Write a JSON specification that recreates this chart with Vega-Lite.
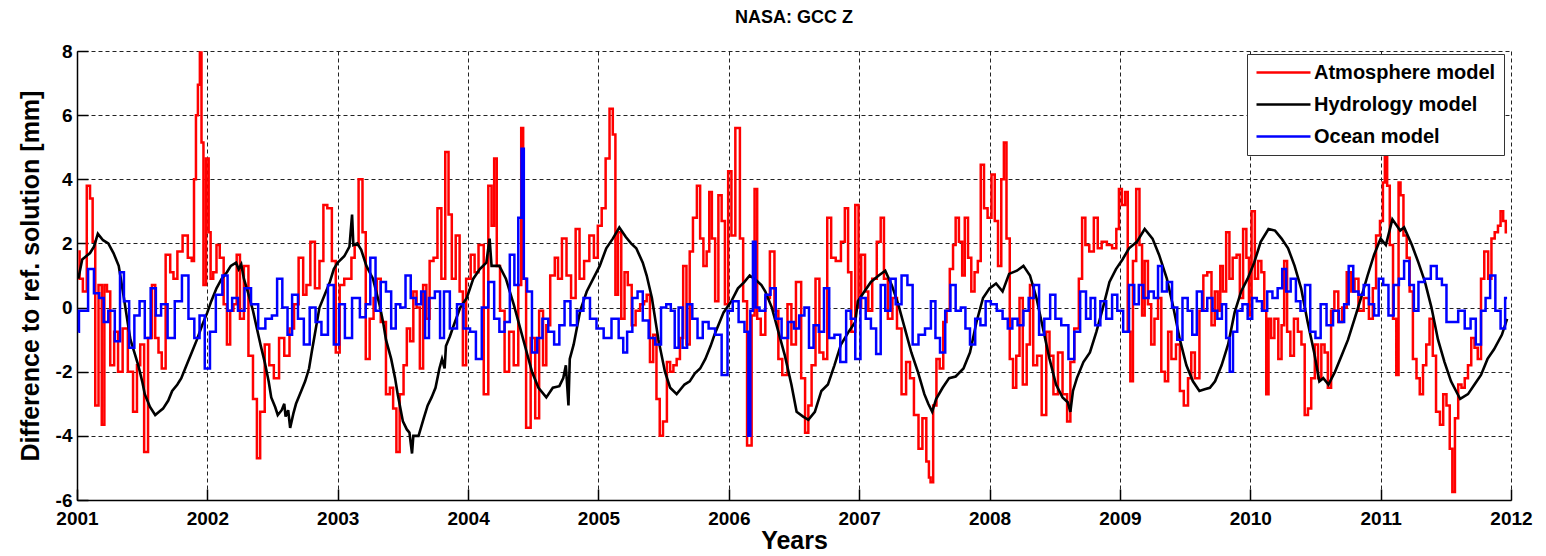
{
  "$schema": "https://vega.github.io/schema/vega-lite/v6.json",
  "width": 1434,
  "height": 449,
  "autosize": {"type": "none"},
  "padding": {"left": 77, "top": 51, "right": 35, "bottom": 56},
  "background": "white",
  "title": {
    "text": "NASA: GCC Z",
    "font": "Liberation Sans",
    "fontSize": 18,
    "fontWeight": "bold",
    "color": "black",
    "anchor": "middle",
    "offset": 15
  },
  "config": {
    "view": {"stroke": null},
    "axis": {
      "labelFont": "Liberation Sans",
      "labelFontSize": 19,
      "labelFontWeight": "bold",
      "labelColor": "black",
      "titleFont": "Liberation Sans",
      "titleFontSize": 25,
      "titleFontWeight": "bold",
      "titleColor": "black",
      "domainColor": "black",
      "domainWidth": 1.5,
      "tickColor": "black",
      "tickWidth": 1.5,
      "tickSize": -11,
      "grid": true,
      "gridColor": "#222222",
      "gridDash": [4, 3],
      "gridWidth": 1,
      "labelFlush": false,
      "labelOverlap": false
    }
  },
  "encoding": {
    "x": {
      "field": "t",
      "type": "quantitative",
      "scale": {"domain": [2001, 2012], "nice": false, "zero": false},
      "axis": {
        "title": "Years",
        "values": [2001, 2002, 2003, 2004, 2005, 2006, 2007, 2008, 2009, 2010, 2011, 2012],
        "format": "d",
        "labelPadding": 20,
        "titlePadding": 0
      }
    },
    "y": {
      "field": "v",
      "type": "quantitative",
      "scale": {"domain": [-6, 8], "nice": false, "zero": false},
      "axis": {
        "title": "Difference to ref. solution [mm]",
        "values": [-6, -4, -2, 0, 2, 4, 6, 8],
        "labelExpr": "'' + datum.value",
        "labelPadding": 16,
        "titlePadding": 12
      }
    }
  },
  "layer": [
    {
      "data": {"name": "atmosphere"},
      "mark": {"type": "line", "interpolate": "step", "strokeWidth": 2.5, "clip": true},
      "encoding": {
        "color": {
          "datum": "Atmosphere model",
          "type": "nominal",
          "scale": {
            "domain": ["Atmosphere model", "Hydrology model", "Ocean model"],
            "range": ["#ff0000", "#000000", "#0000ff"]
          },
          "legend": {
            "title": null,
            "orient": "none",
            "legendX": 1170,
            "legendY": 3,
            "symbolType": "M-3,0H3",
            "symbolSize": 324,
            "symbolStrokeWidth": 2.5,
            "symbolOffset": 18,
            "labelFont": "Liberation Sans",
            "labelFontSize": 20,
            "labelFontWeight": "bold",
            "labelColor": "black",
            "labelLimit": 400,
            "labelOffset": 20,
            "rowPadding": 11,
            "padding": 8,
            "strokeColor": "#333333",
            "fillColor": "white"
          }
        }
      }
    },
    {
      "data": {"name": "hydrology"},
      "mark": {"type": "line", "interpolate": "linear", "strokeWidth": 2.6, "clip": true},
      "encoding": {"color": {"datum": "Hydrology model", "type": "nominal"}}
    },
    {
      "data": {"name": "ocean"},
      "mark": {"type": "line", "interpolate": "step", "strokeWidth": 2.5, "clip": true},
      "encoding": {"color": {"datum": "Ocean model", "type": "nominal"}}
    }
  ],
  "datasets": {
    "hydrology": [
      {"t":2001.01,"v":0.9},{"t":2001.04,"v":1.5},{"t":2001.07,"v":1.6},{"t":2001.10,"v":1.7},{"t":2001.13,"v":1.9},{"t":2001.16,"v":2.3},{"t":2001.20,"v":2.1},{"t":2001.24,"v":2.0},{"t":2001.28,"v":1.7},{"t":2001.32,"v":1.3},{"t":2001.36,"v":0.3},{"t":2001.39,"v":-0.5},{"t":2001.41,"v":-1.0},{"t":2001.44,"v":-1.4},{"t":2001.47,"v":-1.8},{"t":2001.50,"v":-2.3},{"t":2001.52,"v":-2.7},{"t":2001.56,"v":-3.1},{"t":2001.60,"v":-3.35},{"t":2001.63,"v":-3.25},{"t":2001.66,"v":-3.15},{"t":2001.70,"v":-2.9},{"t":2001.73,"v":-2.6},{"t":2001.77,"v":-2.4},{"t":2001.80,"v":-2.2},{"t":2001.84,"v":-1.8},{"t":2001.88,"v":-1.4},{"t":2001.92,"v":-1.0},{"t":2001.96,"v":-0.55},{"t":2002.00,"v":-0.15},{"t":2002.03,"v":0.2},{"t":2002.07,"v":0.6},{"t":2002.11,"v":0.9},{"t":2002.15,"v":1.1},{"t":2002.18,"v":1.3},{"t":2002.22,"v":1.4},{"t":2002.24,"v":1.2},{"t":2002.26,"v":1.35},{"t":2002.28,"v":0.9},{"t":2002.31,"v":0.5},{"t":2002.35,"v":-0.1},{"t":2002.38,"v":-0.65},{"t":2002.41,"v":-1.2},{"t":2002.44,"v":-1.7},{"t":2002.47,"v":-2.3},{"t":2002.49,"v":-2.8},{"t":2002.52,"v":-3.1},{"t":2002.54,"v":-3.35},{"t":2002.57,"v":-3.2},{"t":2002.59,"v":-3.0},{"t":2002.60,"v":-3.4},{"t":2002.62,"v":-3.2},{"t":2002.635,"v":-3.75},{"t":2002.66,"v":-3.3},{"t":2002.68,"v":-3.0},{"t":2002.72,"v":-2.6},{"t":2002.75,"v":-2.3},{"t":2002.78,"v":-1.9},{"t":2002.80,"v":-1.4},{"t":2002.83,"v":-0.7},{"t":2002.86,"v":0.0},{"t":2002.90,"v":0.4},{"t":2002.94,"v":0.8},{"t":2002.97,"v":1.2},{"t":2003.00,"v":1.4},{"t":2003.05,"v":1.6},{"t":2003.09,"v":1.9},{"t":2003.11,"v":2.9},{"t":2003.12,"v":1.95},{"t":2003.15,"v":2.0},{"t":2003.18,"v":1.8},{"t":2003.22,"v":1.3},{"t":2003.27,"v":0.9},{"t":2003.32,"v":0.1},{"t":2003.35,"v":-0.5},{"t":2003.37,"v":-1.0},{"t":2003.41,"v":-1.6},{"t":2003.44,"v":-2.2},{"t":2003.46,"v":-2.7},{"t":2003.50,"v":-3.55},{"t":2003.53,"v":-3.8},{"t":2003.55,"v":-3.9},{"t":2003.57,"v":-4.55},{"t":2003.58,"v":-4.0},{"t":2003.62,"v":-4.0},{"t":2003.66,"v":-3.45},{"t":2003.69,"v":-3.05},{"t":2003.72,"v":-2.8},{"t":2003.75,"v":-2.5},{"t":2003.78,"v":-1.9},{"t":2003.80,"v":-1.6},{"t":2003.82,"v":-1.9},{"t":2003.83,"v":-1.2},{"t":2003.86,"v":-0.9},{"t":2003.89,"v":-0.55},{"t":2003.94,"v":0.0},{"t":2003.99,"v":0.3},{"t":2004.04,"v":0.9},{"t":2004.09,"v":1.2},{"t":2004.14,"v":1.4},{"t":2004.165,"v":2.15},{"t":2004.18,"v":1.3},{"t":2004.24,"v":1.3},{"t":2004.29,"v":0.9},{"t":2004.32,"v":0.5},{"t":2004.35,"v":0.1},{"t":2004.40,"v":-0.65},{"t":2004.45,"v":-1.4},{"t":2004.49,"v":-2.0},{"t":2004.54,"v":-2.5},{"t":2004.60,"v":-2.8},{"t":2004.65,"v":-2.5},{"t":2004.70,"v":-2.45},{"t":2004.73,"v":-2.2},{"t":2004.75,"v":-1.8},{"t":2004.77,"v":-3.05},{"t":2004.78,"v":-1.6},{"t":2004.81,"v":-1.15},{"t":2004.86,"v":-0.1},{"t":2004.91,"v":0.5},{"t":2004.96,"v":0.9},{"t":2005.01,"v":1.3},{"t":2005.06,"v":1.85},{"t":2005.11,"v":2.15},{"t":2005.16,"v":2.5},{"t":2005.21,"v":2.2},{"t":2005.25,"v":2.0},{"t":2005.29,"v":1.85},{"t":2005.34,"v":1.4},{"t":2005.37,"v":1.0},{"t":2005.41,"v":0.3},{"t":2005.46,"v":-1.0},{"t":2005.51,"v":-2.0},{"t":2005.55,"v":-2.5},{"t":2005.60,"v":-2.7},{"t":2005.66,"v":-2.4},{"t":2005.70,"v":-2.3},{"t":2005.74,"v":-2.05},{"t":2005.78,"v":-1.9},{"t":2005.82,"v":-1.6},{"t":2005.86,"v":-1.2},{"t":2005.89,"v":-0.85},{"t":2005.96,"v":-0.15},{"t":2006.02,"v":0.2},{"t":2006.07,"v":0.6},{"t":2006.12,"v":0.8},{"t":2006.16,"v":1.0},{"t":2006.21,"v":0.85},{"t":2006.25,"v":0.7},{"t":2006.28,"v":0.5},{"t":2006.33,"v":0.0},{"t":2006.38,"v":-0.75},{"t":2006.43,"v":-1.5},{"t":2006.48,"v":-2.4},{"t":2006.52,"v":-3.25},{"t":2006.57,"v":-3.4},{"t":2006.61,"v":-3.5},{"t":2006.66,"v":-3.25},{"t":2006.71,"v":-2.6},{"t":2006.76,"v":-2.4},{"t":2006.81,"v":-1.8},{"t":2006.86,"v":-1.15},{"t":2006.92,"v":-0.75},{"t":2006.97,"v":-0.45},{"t":2006.99,"v":0.2},{"t":2007.04,"v":0.5},{"t":2007.09,"v":0.8},{"t":2007.15,"v":1.0},{"t":2007.20,"v":1.15},{"t":2007.25,"v":0.7},{"t":2007.30,"v":0.1},{"t":2007.35,"v":-0.65},{"t":2007.40,"v":-1.4},{"t":2007.45,"v":-2.0},{"t":2007.50,"v":-2.7},{"t":2007.53,"v":-3.0},{"t":2007.56,"v":-3.25},{"t":2007.59,"v":-2.85},{"t":2007.64,"v":-2.5},{"t":2007.69,"v":-2.2},{"t":2007.74,"v":-2.15},{"t":2007.80,"v":-1.9},{"t":2007.85,"v":-1.4},{"t":2007.90,"v":-0.45},{"t":2007.95,"v":0.3},{"t":2008.00,"v":0.6},{"t":2008.05,"v":0.75},{"t":2008.10,"v":0.5},{"t":2008.15,"v":1.05},{"t":2008.21,"v":1.15},{"t":2008.26,"v":1.3},{"t":2008.31,"v":1.0},{"t":2008.36,"v":0.3},{"t":2008.41,"v":-0.65},{"t":2008.46,"v":-1.6},{"t":2008.51,"v":-2.4},{"t":2008.56,"v":-2.8},{"t":2008.60,"v":-2.95},{"t":2008.62,"v":-3.25},{"t":2008.64,"v":-2.6},{"t":2008.67,"v":-2.2},{"t":2008.72,"v":-1.7},{"t":2008.77,"v":-1.4},{"t":2008.82,"v":-0.75},{"t":2008.87,"v":0.0},{"t":2008.92,"v":0.8},{"t":2008.97,"v":1.2},{"t":2009.02,"v":1.5},{"t":2009.07,"v":1.85},{"t":2009.13,"v":2.05},{"t":2009.19,"v":2.45},{"t":2009.25,"v":2.15},{"t":2009.30,"v":1.65},{"t":2009.36,"v":0.9},{"t":2009.41,"v":0.0},{"t":2009.46,"v":-1.0},{"t":2009.51,"v":-1.8},{"t":2009.56,"v":-2.3},{"t":2009.61,"v":-2.6},{"t":2009.65,"v":-2.55},{"t":2009.69,"v":-2.5},{"t":2009.73,"v":-2.3},{"t":2009.78,"v":-1.8},{"t":2009.83,"v":-1.15},{"t":2009.88,"v":-0.15},{"t":2009.93,"v":0.5},{"t":2009.98,"v":0.9},{"t":2010.03,"v":1.4},{"t":2010.08,"v":2.05},{"t":2010.14,"v":2.45},{"t":2010.19,"v":2.4},{"t":2010.24,"v":2.15},{"t":2010.29,"v":1.85},{"t":2010.34,"v":1.3},{"t":2010.39,"v":0.6},{"t":2010.44,"v":-0.45},{"t":2010.49,"v":-1.4},{"t":2010.53,"v":-2.3},{"t":2010.56,"v":-2.2},{"t":2010.60,"v":-2.4},{"t":2010.65,"v":-2.0},{"t":2010.70,"v":-1.5},{"t":2010.75,"v":-1.0},{"t":2010.80,"v":-0.35},{"t":2010.85,"v":0.3},{"t":2010.90,"v":1.0},{"t":2010.95,"v":1.65},{"t":2011.00,"v":2.15},{"t":2011.04,"v":1.95},{"t":2011.09,"v":2.75},{"t":2011.15,"v":2.4},{"t":2011.18,"v":2.5},{"t":2011.24,"v":1.95},{"t":2011.29,"v":1.4},{"t":2011.34,"v":0.8},{"t":2011.39,"v":0.0},{"t":2011.44,"v":-1.0},{"t":2011.49,"v":-1.7},{"t":2011.54,"v":-2.3},{"t":2011.61,"v":-2.85},{"t":2011.67,"v":-2.7},{"t":2011.72,"v":-2.4},{"t":2011.77,"v":-2.1},{"t":2011.82,"v":-1.6},{"t":2011.87,"v":-1.3},{"t":2011.93,"v":-0.85},{"t":2011.97,"v":-0.35}
    ],
    "ocean": [
      {"t":2001.01,"v":-0.75},{"t":2001.02,"v":-0.1},{"t":2001.06,"v":-0.1},{"t":2001.11,"v":1.2},{"t":2001.15,"v":0.45},{"t":2001.19,"v":0.3},{"t":2001.22,"v":-0.45},{"t":2001.26,"v":-0.1},{"t":2001.32,"v":-1.05},{"t":2001.34,"v":1.1},{"t":2001.38,"v":0.2},{"t":2001.42,"v":-1.25},{"t":2001.46,"v":-0.25},{"t":2001.50,"v":0.2},{"t":2001.54,"v":-0.95},{"t":2001.59,"v":0.6},{"t":2001.62,"v":-0.25},{"t":2001.67,"v":0.1},{"t":2001.72,"v":-0.95},{"t":2001.78,"v":0.2},{"t":2001.83,"v":1.0},{"t":2001.88,"v":-0.35},{"t":2001.92,"v":-0.95},{"t":2001.96,"v":-0.25},{"t":2002.00,"v":-1.9},{"t":2002.04,"v":-0.75},{"t":2002.09,"v":0.4},{"t":2002.14,"v":1.0},{"t":2002.17,"v":-0.1},{"t":2002.21,"v":0.3},{"t":2002.26,"v":-0.1},{"t":2002.31,"v":0.6},{"t":2002.36,"v":0.1},{"t":2002.42,"v":-0.65},{"t":2002.47,"v":-0.35},{"t":2002.52,"v":-0.25},{"t":2002.55,"v":0.9},{"t":2002.60,"v":0.0},{"t":2002.63,"v":-0.85},{"t":2002.67,"v":0.4},{"t":2002.72,"v":-0.35},{"t":2002.76,"v":-1.15},{"t":2002.81,"v":0.0},{"t":2002.85,"v":-0.45},{"t":2002.90,"v":-0.85},{"t":2002.95,"v":0.7},{"t":2002.99,"v":-1.15},{"t":2003.03,"v":0.1},{"t":2003.08,"v":-0.95},{"t":2003.14,"v":0.3},{"t":2003.20,"v":-0.3},{"t":2003.23,"v":0.1},{"t":2003.27,"v":1.55},{"t":2003.31,"v":-0.1},{"t":2003.35,"v":0.8},{"t":2003.39,"v":0.5},{"t":2003.43,"v":-0.65},{"t":2003.46,"v":0.1},{"t":2003.50,"v":0.0},{"t":2003.54,"v":1.0},{"t":2003.58,"v":0.3},{"t":2003.62,"v":0.1},{"t":2003.66,"v":0.5},{"t":2003.68,"v":-0.95},{"t":2003.72,"v":0.3},{"t":2003.77,"v":0.5},{"t":2003.80,"v":-0.95},{"t":2003.83,"v":0.5},{"t":2003.89,"v":-0.65},{"t":2003.94,"v":0.1},{"t":2003.99,"v":-0.65},{"t":2004.04,"v":-0.75},{"t":2004.08,"v":-1.6},{"t":2004.13,"v":0.0},{"t":2004.18,"v":0.8},{"t":2004.22,"v":-0.35},{"t":2004.26,"v":-0.75},{"t":2004.30,"v":-0.45},{"t":2004.34,"v":1.65},{"t":2004.37,"v":0.7},{"t":2004.40,"v":2.8},{"t":2004.42,"v":4.95},{"t":2004.435,"v":0.9},{"t":2004.47,"v":0.5},{"t":2004.51,"v":-1.4},{"t":2004.55,"v":-0.95},{"t":2004.59,"v":-0.35},{"t":2004.64,"v":-0.75},{"t":2004.68,"v":-1.15},{"t":2004.72,"v":-0.55},{"t":2004.76,"v":0.2},{"t":2004.81,"v":-0.55},{"t":2004.86,"v":-0.1},{"t":2004.91,"v":0.3},{"t":2004.96,"v":-0.35},{"t":2005.01,"v":-0.65},{"t":2005.07,"v":-0.95},{"t":2005.13,"v":-0.35},{"t":2005.18,"v":-0.95},{"t":2005.20,"v":-1.4},{"t":2005.24,"v":-0.75},{"t":2005.28,"v":0.3},{"t":2005.32,"v":0.5},{"t":2005.36,"v":-0.4},{"t":2005.41,"v":-0.95},{"t":2005.46,"v":-1.15},{"t":2005.50,"v":0.0},{"t":2005.54,"v":0.1},{"t":2005.57,"v":-0.1},{"t":2005.60,"v":-1.25},{"t":2005.63,"v":0.0},{"t":2005.66,"v":-1.25},{"t":2005.70,"v":0.1},{"t":2005.74,"v":-0.35},{"t":2005.78,"v":-0.95},{"t":2005.82,"v":-0.45},{"t":2005.87,"v":-0.65},{"t":2005.92,"v":-0.85},{"t":2005.97,"v":-2.1},{"t":2006.01,"v":-0.1},{"t":2006.05,"v":0.2},{"t":2006.10,"v":-0.45},{"t":2006.14,"v":-0.75},{"t":2006.16,"v":-4.0},{"t":2006.17,"v":-0.1},{"t":2006.20,"v":2.05},{"t":2006.21,"v":0.0},{"t":2006.26,"v":-0.1},{"t":2006.30,"v":0.4},{"t":2006.34,"v":0.6},{"t":2006.38,"v":-0.35},{"t":2006.43,"v":-0.95},{"t":2006.48,"v":-0.45},{"t":2006.52,"v":-0.65},{"t":2006.56,"v":-0.25},{"t":2006.60,"v":0.0},{"t":2006.63,"v":-1.25},{"t":2006.67,"v":-0.55},{"t":2006.71,"v":-0.75},{"t":2006.75,"v":0.6},{"t":2006.79,"v":-0.95},{"t":2006.83,"v":-0.85},{"t":2006.88,"v":-1.7},{"t":2006.92,"v":-0.1},{"t":2006.95,"v":-0.35},{"t":2006.99,"v":-1.6},{"t":2007.03,"v":0.3},{"t":2007.07,"v":-0.35},{"t":2007.11,"v":-0.65},{"t":2007.15,"v":-1.45},{"t":2007.18,"v":0.7},{"t":2007.22,"v":-0.1},{"t":2007.26,"v":0.9},{"t":2007.30,"v":0.1},{"t":2007.35,"v":1.0},{"t":2007.39,"v":0.7},{"t":2007.43,"v":-1.15},{"t":2007.48,"v":-0.85},{"t":2007.53,"v":-0.65},{"t":2007.57,"v":0.2},{"t":2007.60,"v":-0.95},{"t":2007.64,"v":-1.4},{"t":2007.68,"v":-0.1},{"t":2007.72,"v":0.7},{"t":2007.76,"v":-0.1},{"t":2007.80,"v":0.0},{"t":2007.83,"v":-0.65},{"t":2007.87,"v":-1.15},{"t":2007.91,"v":-0.35},{"t":2007.95,"v":-0.55},{"t":2007.99,"v":0.2},{"t":2008.03,"v":0.1},{"t":2008.08,"v":-0.1},{"t":2008.12,"v":-0.35},{"t":2008.16,"v":-0.65},{"t":2008.19,"v":-0.35},{"t":2008.24,"v":-0.55},{"t":2008.28,"v":-0.1},{"t":2008.32,"v":0.3},{"t":2008.36,"v":0.7},{"t":2008.40,"v":-0.85},{"t":2008.44,"v":-0.35},{"t":2008.49,"v":0.4},{"t":2008.52,"v":-0.35},{"t":2008.58,"v":-0.55},{"t":2008.63,"v":-1.6},{"t":2008.67,"v":-0.75},{"t":2008.72,"v":0.5},{"t":2008.76,"v":-0.35},{"t":2008.79,"v":0.3},{"t":2008.83,"v":-0.55},{"t":2008.87,"v":0.2},{"t":2008.92,"v":-0.35},{"t":2008.96,"v":0.4},{"t":2009.00,"v":-0.1},{"t":2009.05,"v":-0.75},{"t":2009.09,"v":0.7},{"t":2009.13,"v":0.1},{"t":2009.16,"v":0.7},{"t":2009.20,"v":0.3},{"t":2009.24,"v":0.5},{"t":2009.28,"v":0.3},{"t":2009.305,"v":1.3},{"t":2009.34,"v":0.5},{"t":2009.38,"v":0.8},{"t":2009.42,"v":0.0},{"t":2009.46,"v":-1.0},{"t":2009.50,"v":0.3},{"t":2009.54,"v":-0.1},{"t":2009.57,"v":-0.85},{"t":2009.61,"v":0.5},{"t":2009.65,"v":-0.1},{"t":2009.69,"v":0.3},{"t":2009.73,"v":-0.1},{"t":2009.765,"v":-0.35},{"t":2009.80,"v":0.1},{"t":2009.83,"v":-0.95},{"t":2009.855,"v":-2.0},{"t":2009.88,"v":-0.75},{"t":2009.92,"v":-0.1},{"t":2009.96,"v":0.1},{"t":2010.00,"v":-0.35},{"t":2010.03,"v":0.3},{"t":2010.07,"v":0.2},{"t":2010.11,"v":-0.1},{"t":2010.15,"v":0.5},{"t":2010.19,"v":0.3},{"t":2010.23,"v":0.6},{"t":2010.26,"v":1.2},{"t":2010.29,"v":0.5},{"t":2010.33,"v":0.9},{"t":2010.37,"v":0.2},{"t":2010.40,"v":-0.1},{"t":2010.44,"v":0.7},{"t":2010.48,"v":-0.75},{"t":2010.52,"v":-0.95},{"t":2010.56,"v":0.1},{"t":2010.61,"v":-0.55},{"t":2010.66,"v":-0.1},{"t":2010.70,"v":-0.45},{"t":2010.74,"v":0.1},{"t":2010.77,"v":1.3},{"t":2010.81,"v":0.5},{"t":2010.85,"v":0.4},{"t":2010.89,"v":0.7},{"t":2010.93,"v":0.1},{"t":2010.97,"v":-0.25},{"t":2011.00,"v":0.9},{"t":2011.04,"v":0.7},{"t":2011.08,"v":-0.25},{"t":2011.12,"v":0.7},{"t":2011.16,"v":0.9},{"t":2011.20,"v":1.45},{"t":2011.24,"v":0.7},{"t":2011.27,"v":-0.1},{"t":2011.31,"v":0.8},{"t":2011.36,"v":0.9},{"t":2011.41,"v":1.3},{"t":2011.45,"v":0.9},{"t":2011.49,"v":0.7},{"t":2011.52,"v":-0.45},{"t":2011.57,"v":-0.45},{"t":2011.62,"v":-0.1},{"t":2011.67,"v":-0.65},{"t":2011.71,"v":-0.35},{"t":2011.75,"v":-1.15},{"t":2011.79,"v":-0.1},{"t":2011.82,"v":0.3},{"t":2011.86,"v":1.0},{"t":2011.90,"v":-0.1},{"t":2011.94,"v":-0.65},{"t":2011.97,"v":0.3}
    ],
    "atmosphere": [
      {"t":2001.01,"v":1.75},{"t":2001.03,"v":0.9},{"t":2001.06,"v":0.5},{"t":2001.09,"v":3.8},{"t":2001.11,"v":3.4},{"t":2001.13,"v":2.05},{"t":2001.15,"v":-3.05},{"t":2001.18,"v":0.7},{"t":2001.20,"v":-3.65},{"t":2001.22,"v":0.7},{"t":2001.24,"v":0.5},{"t":2001.27,"v":-1.8},{"t":2001.30,"v":-0.75},{"t":2001.33,"v":-2.0},{"t":2001.37,"v":-0.65},{"t":2001.41,"v":-2.0},{"t":2001.45,"v":-3.25},{"t":2001.47,"v":-1.8},{"t":2001.50,"v":-1.15},{"t":2001.53,"v":-4.5},{"t":2001.56,"v":-0.95},{"t":2001.59,"v":0.7},{"t":2001.61,"v":-0.95},{"t":2001.64,"v":-1.4},{"t":2001.66,"v":-1.9},{"t":2001.70,"v":1.65},{"t":2001.73,"v":1.1},{"t":2001.75,"v":0.9},{"t":2001.79,"v":1.75},{"t":2001.83,"v":2.25},{"t":2001.87,"v":1.55},{"t":2001.89,"v":1.45},{"t":2001.905,"v":4.0},{"t":2001.92,"v":6.0},{"t":2001.935,"v":6.95},{"t":2001.95,"v":7.95},{"t":2001.96,"v":5.15},{"t":2001.98,"v":0.7},{"t":2002.00,"v":4.65},{"t":2002.02,"v":2.35},{"t":2002.03,"v":0.9},{"t":2002.06,"v":1.1},{"t":2002.08,"v":1.95},{"t":2002.11,"v":1.55},{"t":2002.14,"v":0.1},{"t":2002.16,"v":-1.15},{"t":2002.19,"v":-0.1},{"t":2002.21,"v":0.1},{"t":2002.24,"v":1.65},{"t":2002.26,"v":-0.35},{"t":2002.30,"v":1.3},{"t":2002.33,"v":-1.5},{"t":2002.37,"v":-2.85},{"t":2002.39,"v":-4.7},{"t":2002.42,"v":-3.25},{"t":2002.46,"v":-1.15},{"t":2002.49,"v":-1.8},{"t":2002.53,"v":-2.2},{"t":2002.57,"v":-0.95},{"t":2002.61,"v":-1.5},{"t":2002.65,"v":-0.65},{"t":2002.68,"v":0.1},{"t":2002.72,"v":1.55},{"t":2002.75,"v":0.4},{"t":2002.77,"v":0.7},{"t":2002.81,"v":2.05},{"t":2002.84,"v":0.6},{"t":2002.88,"v":1.45},{"t":2002.90,"v":3.2},{"t":2002.94,"v":3.1},{"t":2002.97,"v":1.45},{"t":2003.00,"v":-1.4},{"t":2003.03,"v":0.7},{"t":2003.07,"v":0.9},{"t":2003.09,"v":0.9},{"t":2003.12,"v":1.55},{"t":2003.14,"v":1.95},{"t":2003.18,"v":4.0},{"t":2003.20,"v":2.35},{"t":2003.23,"v":-1.6},{"t":2003.26,"v":-0.35},{"t":2003.29,"v":0.3},{"t":2003.31,"v":0.9},{"t":2003.35,"v":-0.45},{"t":2003.39,"v":-2.7},{"t":2003.41,"v":-2.5},{"t":2003.44,"v":-3.15},{"t":2003.46,"v":-4.5},{"t":2003.49,"v":-2.7},{"t":2003.52,"v":-1.8},{"t":2003.54,"v":-0.65},{"t":2003.57,"v":-1.05},{"t":2003.59,"v":0.5},{"t":2003.62,"v":0.0},{"t":2003.64,"v":-1.9},{"t":2003.67,"v":0.7},{"t":2003.69,"v":-0.35},{"t":2003.72,"v":1.45},{"t":2003.75,"v":1.55},{"t":2003.78,"v":3.1},{"t":2003.81,"v":0.9},{"t":2003.84,"v":4.85},{"t":2003.86,"v":2.9},{"t":2003.89,"v":0.9},{"t":2003.92,"v":2.25},{"t":2003.95,"v":0.5},{"t":2003.97,"v":-1.8},{"t":2004.00,"v":0.9},{"t":2004.04,"v":1.65},{"t":2004.06,"v":1.1},{"t":2004.10,"v":1.95},{"t":2004.14,"v":-2.7},{"t":2004.17,"v":3.8},{"t":2004.19,"v":2.55},{"t":2004.21,"v":4.65},{"t":2004.23,"v":1.3},{"t":2004.26,"v":-0.1},{"t":2004.30,"v":-2.0},{"t":2004.33,"v":-0.75},{"t":2004.37,"v":-1.8},{"t":2004.40,"v":0.7},{"t":2004.415,"v":5.6},{"t":2004.43,"v":0.9},{"t":2004.46,"v":-3.75},{"t":2004.50,"v":-0.95},{"t":2004.53,"v":-3.45},{"t":2004.56,"v":-0.1},{"t":2004.59,"v":-1.8},{"t":2004.61,"v":-0.55},{"t":2004.65,"v":1.0},{"t":2004.68,"v":1.55},{"t":2004.70,"v":0.9},{"t":2004.74,"v":2.15},{"t":2004.77,"v":1.0},{"t":2004.81,"v":0.3},{"t":2004.84,"v":2.45},{"t":2004.87,"v":0.9},{"t":2004.91,"v":1.45},{"t":2004.95,"v":2.25},{"t":2004.98,"v":1.55},{"t":2005.01,"v":2.55},{"t":2005.04,"v":3.1},{"t":2005.07,"v":4.65},{"t":2005.10,"v":6.2},{"t":2005.12,"v":5.4},{"t":2005.14,"v":0.4},{"t":2005.16,"v":2.35},{"t":2005.19,"v":-0.35},{"t":2005.21,"v":1.1},{"t":2005.24,"v":0.7},{"t":2005.27,"v":-0.55},{"t":2005.30,"v":-0.1},{"t":2005.34,"v":0.1},{"t":2005.36,"v":0.2},{"t":2005.38,"v":0.4},{"t":2005.41,"v":-1.7},{"t":2005.43,"v":-0.85},{"t":2005.46,"v":-2.85},{"t":2005.48,"v":-4.0},{"t":2005.51,"v":-3.55},{"t":2005.54,"v":-1.7},{"t":2005.56,"v":-2.0},{"t":2005.59,"v":-1.8},{"t":2005.61,"v":-1.6},{"t":2005.64,"v":-0.95},{"t":2005.66,"v":1.3},{"t":2005.69,"v":-1.15},{"t":2005.71,"v":1.75},{"t":2005.74,"v":2.8},{"t":2005.77,"v":3.8},{"t":2005.79,"v":2.15},{"t":2005.82,"v":1.3},{"t":2005.84,"v":1.75},{"t":2005.86,"v":3.6},{"t":2005.88,"v":2.15},{"t":2005.91,"v":0.2},{"t":2005.93,"v":3.5},{"t":2005.96,"v":2.7},{"t":2005.98,"v":0.1},{"t":2006.01,"v":4.25},{"t":2006.03,"v":2.25},{"t":2006.07,"v":5.6},{"t":2006.10,"v":2.15},{"t":2006.12,"v":0.2},{"t":2006.16,"v":-4.3},{"t":2006.19,"v":-0.25},{"t":2006.205,"v":3.7},{"t":2006.23,"v":-0.35},{"t":2006.26,"v":-0.85},{"t":2006.30,"v":0.3},{"t":2006.33,"v":1.75},{"t":2006.37,"v":-0.1},{"t":2006.39,"v":-1.6},{"t":2006.43,"v":-2.1},{"t":2006.47,"v":0.1},{"t":2006.49,"v":-1.15},{"t":2006.54,"v":0.8},{"t":2006.57,"v":-2.2},{"t":2006.60,"v":-3.9},{"t":2006.62,"v":-3.05},{"t":2006.65,"v":-1.8},{"t":2006.68,"v":0.9},{"t":2006.71,"v":-1.4},{"t":2006.74,"v":-1.6},{"t":2006.77,"v":2.8},{"t":2006.80,"v":1.55},{"t":2006.84,"v":1.45},{"t":2006.88,"v":2.05},{"t":2006.90,"v":3.1},{"t":2006.93,"v":1.1},{"t":2006.95,"v":-0.75},{"t":2006.99,"v":3.2},{"t":2007.00,"v":0.0},{"t":2007.03,"v":1.65},{"t":2007.06,"v":0.5},{"t":2007.08,"v":-0.1},{"t":2007.12,"v":0.9},{"t":2007.15,"v":2.05},{"t":2007.18,"v":2.8},{"t":2007.20,"v":0.9},{"t":2007.24,"v":-0.35},{"t":2007.27,"v":0.3},{"t":2007.31,"v":-0.65},{"t":2007.34,"v":-2.7},{"t":2007.38,"v":-1.7},{"t":2007.40,"v":-2.2},{"t":2007.44,"v":-3.35},{"t":2007.47,"v":-4.4},{"t":2007.50,"v":-3.45},{"t":2007.53,"v":-4.8},{"t":2007.54,"v":-5.3},{"t":2007.555,"v":-5.45},{"t":2007.58,"v":-3.05},{"t":2007.605,"v":-1.6},{"t":2007.63,"v":-1.9},{"t":2007.66,"v":-0.45},{"t":2007.68,"v":-0.1},{"t":2007.71,"v":1.2},{"t":2007.73,"v":1.95},{"t":2007.75,"v":2.8},{"t":2007.78,"v":2.05},{"t":2007.80,"v":1.0},{"t":2007.82,"v":2.8},{"t":2007.85,"v":1.55},{"t":2007.87,"v":0.5},{"t":2007.90,"v":1.1},{"t":2007.92,"v":1.45},{"t":2007.945,"v":4.45},{"t":2007.97,"v":3.1},{"t":2008.00,"v":2.8},{"t":2008.03,"v":4.15},{"t":2008.05,"v":2.7},{"t":2008.08,"v":1.3},{"t":2008.10,"v":4.0},{"t":2008.12,"v":5.15},{"t":2008.14,"v":2.15},{"t":2008.17,"v":-1.6},{"t":2008.19,"v":-2.5},{"t":2008.22,"v":-1.5},{"t":2008.24,"v":0.3},{"t":2008.27,"v":-2.4},{"t":2008.30,"v":-1.15},{"t":2008.32,"v":0.7},{"t":2008.35,"v":-1.8},{"t":2008.38,"v":-1.5},{"t":2008.42,"v":-3.35},{"t":2008.45,"v":-0.75},{"t":2008.47,"v":-1.5},{"t":2008.51,"v":-2.7},{"t":2008.54,"v":-1.4},{"t":2008.58,"v":-2.7},{"t":2008.61,"v":-3.55},{"t":2008.63,"v":-1.7},{"t":2008.67,"v":-0.65},{"t":2008.70,"v":0.9},{"t":2008.72,"v":2.8},{"t":2008.75,"v":1.95},{"t":2008.78,"v":1.75},{"t":2008.82,"v":2.8},{"t":2008.84,"v":1.85},{"t":2008.88,"v":2.05},{"t":2008.92,"v":1.95},{"t":2008.96,"v":1.85},{"t":2008.985,"v":2.45},{"t":2009.00,"v":3.7},{"t":2009.03,"v":3.2},{"t":2009.05,"v":3.6},{"t":2009.07,"v":-0.75},{"t":2009.09,"v":-2.3},{"t":2009.11,"v":1.45},{"t":2009.14,"v":3.7},{"t":2009.16,"v":1.95},{"t":2009.18,"v":-0.25},{"t":2009.20,"v":1.45},{"t":2009.23,"v":0.1},{"t":2009.25,"v":-1.15},{"t":2009.28,"v":-0.35},{"t":2009.305,"v":0.3},{"t":2009.33,"v":-2.0},{"t":2009.36,"v":-2.3},{"t":2009.38,"v":-0.75},{"t":2009.41,"v":-1.6},{"t":2009.45,"v":-1.15},{"t":2009.47,"v":-2.6},{"t":2009.51,"v":-3.05},{"t":2009.535,"v":-2.2},{"t":2009.56,"v":-1.4},{"t":2009.59,"v":-2.2},{"t":2009.63,"v":-0.1},{"t":2009.65,"v":1.0},{"t":2009.69,"v":1.1},{"t":2009.715,"v":-0.55},{"t":2009.74,"v":0.5},{"t":2009.76,"v":-0.1},{"t":2009.78,"v":1.3},{"t":2009.80,"v":0.5},{"t":2009.83,"v":2.35},{"t":2009.85,"v":0.9},{"t":2009.88,"v":1.55},{"t":2009.91,"v":1.65},{"t":2009.93,"v":0.3},{"t":2009.96,"v":2.45},{"t":2009.98,"v":1.55},{"t":2010.00,"v":-0.25},{"t":2010.02,"v":3.0},{"t":2010.05,"v":0.9},{"t":2010.07,"v":1.45},{"t":2010.10,"v":1.1},{"t":2010.115,"v":-0.1},{"t":2010.13,"v":-2.7},{"t":2010.15,"v":-0.35},{"t":2010.17,"v":-0.95},{"t":2010.20,"v":-0.35},{"t":2010.23,"v":-1.6},{"t":2010.25,"v":-0.55},{"t":2010.27,"v":1.45},{"t":2010.295,"v":-0.75},{"t":2010.32,"v":-1.5},{"t":2010.35,"v":-0.35},{"t":2010.38,"v":-0.75},{"t":2010.405,"v":-1.15},{"t":2010.43,"v":-3.35},{"t":2010.455,"v":-3.15},{"t":2010.48,"v":-2.2},{"t":2010.51,"v":-1.15},{"t":2010.53,"v":-2.2},{"t":2010.56,"v":-1.15},{"t":2010.58,"v":-1.4},{"t":2010.61,"v":-2.5},{"t":2010.63,"v":-0.1},{"t":2010.66,"v":0.5},{"t":2010.69,"v":-0.45},{"t":2010.72,"v":0.0},{"t":2010.76,"v":1.1},{"t":2010.79,"v":0.5},{"t":2010.81,"v":0.9},{"t":2010.85,"v":-0.1},{"t":2010.89,"v":0.3},{"t":2010.93,"v":-0.35},{"t":2010.95,"v":0.6},{"t":2010.98,"v":2.25},{"t":2011.01,"v":2.7},{"t":2011.025,"v":3.9},{"t":2011.04,"v":4.75},{"t":2011.06,"v":3.8},{"t":2011.08,"v":1.95},{"t":2011.11,"v":-0.35},{"t":2011.13,"v":-2.1},{"t":2011.145,"v":3.9},{"t":2011.16,"v":3.5},{"t":2011.19,"v":2.25},{"t":2011.21,"v":1.55},{"t":2011.235,"v":0.5},{"t":2011.26,"v":-1.6},{"t":2011.29,"v":-2.2},{"t":2011.31,"v":-2.7},{"t":2011.34,"v":-1.8},{"t":2011.36,"v":-1.15},{"t":2011.39,"v":-0.35},{"t":2011.41,"v":-1.5},{"t":2011.44,"v":-3.25},{"t":2011.47,"v":-3.65},{"t":2011.49,"v":-2.7},{"t":2011.52,"v":-3.05},{"t":2011.54,"v":-4.4},{"t":2011.56,"v":-5.75},{"t":2011.58,"v":-3.45},{"t":2011.61,"v":-2.4},{"t":2011.63,"v":-2.5},{"t":2011.66,"v":-2.2},{"t":2011.68,"v":-1.8},{"t":2011.71,"v":-0.95},{"t":2011.73,"v":-1.25},{"t":2011.76,"v":-1.6},{"t":2011.78,"v":0.9},{"t":2011.81,"v":1.75},{"t":2011.84,"v":0.9},{"t":2011.86,"v":2.15},{"t":2011.89,"v":2.35},{"t":2011.91,"v":2.55},{"t":2011.93,"v":3.0},{"t":2011.95,"v":2.7},{"t":2011.97,"v":2.35}
    ]
  }
}
